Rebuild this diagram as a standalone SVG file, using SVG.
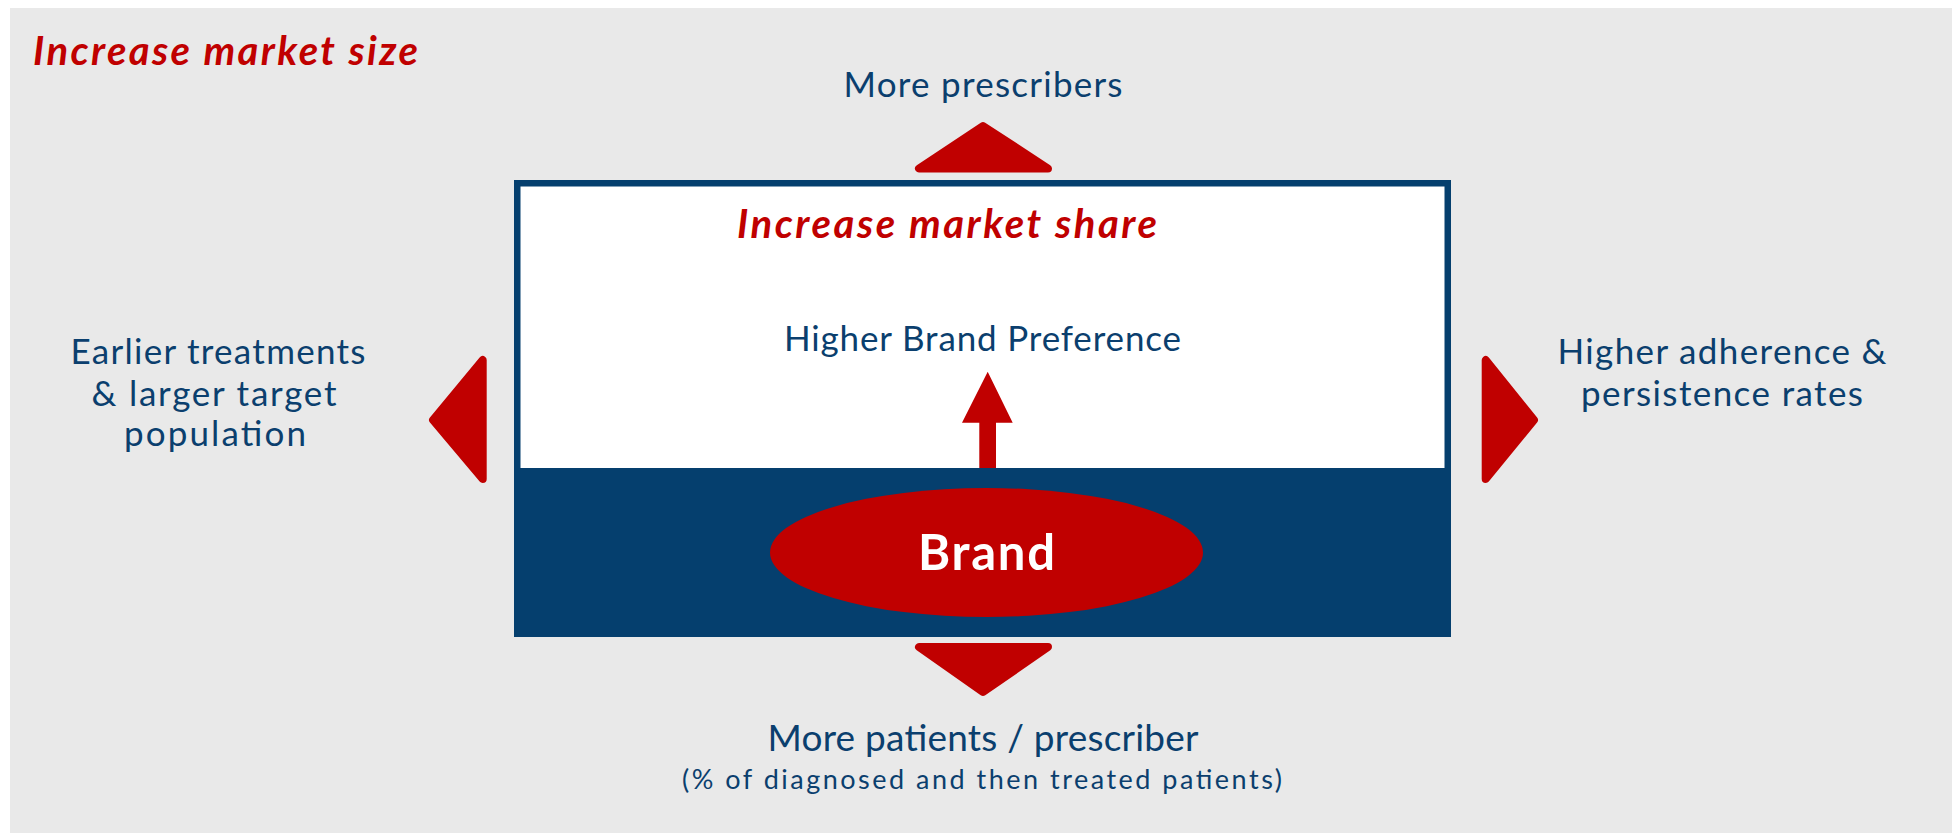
<svg xmlns="http://www.w3.org/2000/svg" width="1952" height="833" viewBox="0 0 1952 833">
<style>
.red{fill:#C00000;stroke:#C00000;stroke-width:8;stroke-linejoin:round}
.lbl{font-family:Lato,"Open Sans","Liberation Sans",sans-serif;fill:#0B3F6E;text-anchor:middle}
.title{font-family:Lato,"Open Sans","Liberation Sans",sans-serif;fill:#C00000;font-weight:bold;font-style:italic}
</style>
<rect x="10" y="8" width="1942" height="825" fill="#E9E9E9"/>
<text class="title" x="33" y="65" font-size="40" textLength="385">Increase market size</text>
<g id="market-share-box">
<rect x="517.25" y="183.25" width="930.5" height="450.5" fill="#FFFFFF" stroke="#053F6E" stroke-width="6.5"/>
<rect x="514" y="468" width="937" height="169" fill="#053F6E"/>
<text class="title" x="737" y="238" font-size="40" textLength="420">Increase market share</text>
</g>
<g id="preference">
<text class="lbl" x="982.5" y="351" font-size="35" textLength="397">Higher Brand Preference</text>
</g>
<g id="brand">
<ellipse cx="986.5" cy="552.5" rx="216.5" ry="64.5" fill="#C00000"/>
<text x="986.5" y="570" font-family="Lato,'Open Sans','Liberation Sans',sans-serif" font-weight="bold" font-size="49" fill="#FFFFFF" text-anchor="middle" textLength="137">Brand</text>
</g>
<g id="connectors">
<polygon points="987.7,371.7 1012.7,422.7 996,422.7 996,468 979.3,468 979.3,422.7 962,422.7" fill="#C00000"/>
<polygon class="red" points="983,126 919,168.5 1048,168.5"/>
<polygon class="red" points="919,647 1048,647 983,692"/>
<polygon class="red" points="482.7,360 482.7,479 433,420"/>
<polygon class="red" points="1485.7,360 1485.7,479 1534,420"/>
</g>
<g id="more-prescribers">
<text class="lbl" x="983" y="97" font-size="35" textLength="279">More prescribers</text>
</g>
<g id="earlier-treatments">
<text class="lbl" x="218" y="364" font-size="35" textLength="295">Earlier treatments</text>
<text class="lbl" x="214" y="406" font-size="35" textLength="245">&amp; larger target</text>
<text class="lbl" x="215" y="446" font-size="35" textLength="182">population</text>
</g>
<g id="adherence">
<text class="lbl" x="1722" y="364" font-size="35" textLength="329">Higher adherence &amp;</text>
<text class="lbl" x="1722" y="406" font-size="35" textLength="282">persistence rates</text>
</g>
<g id="more-patients">
<text class="lbl" x="983" y="751" font-size="37" textLength="431">More patients / prescriber</text>
<text class="lbl" x="982" y="789" font-size="27" textLength="600">(% of diagnosed and then treated patients)</text>
</g>
</svg>
